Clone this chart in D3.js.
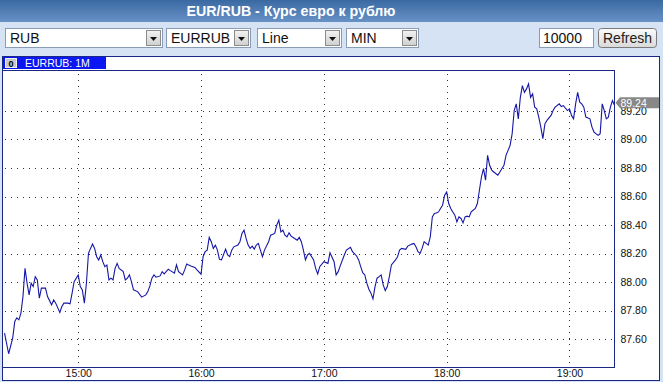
<!DOCTYPE html>
<html lang="ru">
<head>
<meta charset="utf-8">
<title>EUR/RUB</title>
<script src="https://d3js.org/d3.v7.min.js"></script>
<style>
  body { margin: 0; background: #d5e3f5; }
  svg { display: block; font-family: "Liberation Sans", Arial, sans-serif; }
</style>
</head>
<body>
<script>
// minutes after 14:00 and the EUR/RUB rate at that minute
var minutes = [24,26,28,29,30,31,32,33,34,35,36,37,38,39,40,41,42,44,45,47,48,49,51,52,53,55,56,57,58,60,
  61,62,63,64,65,66,67,68,69,70,71,72,73,74,75,76,77,78,79,80,82,83,84,85,86,87,89,91,93,94,95,96,97,98,
  100,101,102,104,105,107,108,109,111,112,113,115,117,118,120,121,122,123,124,125,126,127,128,129,130,
  132,133,134,135,136,138,139,140,141,142,143,144,145,146,147,148,149,150,151,153,154,156,157,158,159,
  160,161,162,163,164,165,167,168,169,170,171,172,173,175,176,177,178,180,182,183,185,186,187,188,190,
  191,193,194,196,197,198,199,200,201,202,203,204,205,206,207,208,209,210,211,212,213,215,216,217,218,
  220,221,223,224,225,226,227,228,229,230,231,232,233,234,235,236,237,238,239,240,241,242,243,244,245,
  246,247,248,249,250,251,252,254,255,256,257,258,259,260,261,262,263,265,266,267,268,269,271,272,273,
  274,275,276,277,278,279,280,281,282,283,284,285,286,287,288,289,291,292,293,295,296,297,299,300,301,
  302,303,304,305,306,307,308,310,311,312,314,315,316,317,318,319,320,321,322];
var rates = [87.642,87.497,87.609,87.723,87.749,87.735,87.782,87.898,88.096,87.992,87.910,87.992,87.968,88.038,88.015,87.887,87.957,87.957,87.898,87.840,87.875,87.852,87.786,87.828,87.852,87.852,87.847,87.922,88.003,88.050,
  87.968,87.945,87.852,87.992,88.201,88.236,88.266,88.236,88.178,88.155,88.190,88.143,88.108,88.119,88.015,88.027,88.015,88.096,88.131,88.096,88.073,88.015,88.027,88.050,88.003,87.945,87.933,87.894,87.910,87.933,87.973,88.027,88.050,88.034,
  88.043,88.073,88.057,88.090,88.080,88.062,88.120,88.073,88.050,88.085,88.127,88.113,88.103,88.085,88.055,88.178,88.213,88.224,88.313,88.283,88.236,88.259,88.224,88.159,88.155,
  88.231,88.190,88.178,88.224,88.247,88.259,88.283,88.341,88.364,88.306,88.259,88.236,88.252,88.231,88.259,88.271,88.224,88.178,88.224,88.283,88.329,88.341,88.399,88.434,88.352,
  88.364,88.329,88.317,88.345,88.322,88.313,88.294,88.313,88.283,88.224,88.155,88.190,88.201,88.155,88.096,88.057,88.108,88.143,88.131,88.206,88.143,88.050,88.073,88.113,88.190,
  88.224,88.243,88.213,88.183,88.155,88.108,88.066,88.050,87.992,87.950,87.922,87.882,87.968,88.027,88.038,88.050,87.980,87.940,87.968,88.038,88.120,88.155,88.178,88.224,88.236,
  88.229,88.252,88.266,88.271,88.247,88.213,88.201,88.236,88.283,88.271,88.259,88.317,88.457,88.481,88.485,88.492,88.516,88.539,88.609,88.632,88.551,88.516,88.492,88.469,88.422,
  88.457,88.446,88.415,88.457,88.462,88.457,88.492,88.516,88.551,88.644,88.737,88.796,88.714,88.889,88.819,88.784,88.772,88.749,88.772,88.796,88.819,88.889,88.959,89.041,89.203,
  89.250,89.145,89.296,89.378,89.331,89.355,89.390,89.296,89.320,89.227,89.215,89.157,89.087,89.006,89.110,89.134,89.169,89.203,89.227,89.250,89.231,89.238,89.203,89.215,89.169,
  89.145,89.250,89.331,89.262,89.250,89.227,89.157,89.145,89.087,89.052,89.029,89.041,89.250,89.203,89.145,89.157,89.227,89.273,89.240];
var rateTicks = [87.6, 87.8, 88.0, 88.2, 88.4, 88.6, 88.8, 89.0, 89.2];
var hourTicks = [15, 16, 17, 18, 19];
var selectLabels = ["RUB", "EURRUB", "Line", "MIN"];
var lastRate = 89.24;

var W = 663, H = 382;
var day = new Date(2010, 0, 1, 14, 0);
var at = m => d3.timeMinute.offset(day, m);

var svg = d3.select("body").append("svg").attr("width", W).attr("height", H);
var defs = svg.append("defs");

function grad(id, c0, c1) {
  var lg = defs.append("linearGradient").attr("id", id)
    .attr("x1", 0).attr("y1", 0).attr("x2", 0).attr("y2", 1);
  lg.append("stop").attr("offset", 0).attr("stop-color", c0);
  lg.append("stop").attr("offset", 1).attr("stop-color", c1);
}
grad("titleGrad", "#3a69a2", "#6892c6");
grad("btnGrad", "#fbfbfb", "#d9d9d9");
grad("arrGrad", "#f2f2f2", "#cfcfcf");

// title bar
svg.append("rect").attr("width", W).attr("height", 22).attr("fill", "url(#titleGrad)");
svg.append("text").attr("x", 291).attr("y", 16).attr("text-anchor", "middle")
  .attr("fill", "#fff").attr("font-weight", "bold").attr("font-size", 14.2)
  .text("EUR/RUB - Курс евро к рублю");

// controls row
var boxes = [{x: 5, w: 157}, {x: 166, w: 84}, {x: 257, w: 84}, {x: 346, w: 72}];
boxes.forEach((b, i) => {
  var g = svg.append("g").attr("transform", `translate(${b.x},28)`);
  g.append("rect").attr("x", 0.5).attr("y", 0.5).attr("width", b.w).attr("height", 19)
    .attr("fill", "#fff").attr("stroke", "#8a9bb5");
  g.append("text").attr("x", 5).attr("y", 15).attr("font-size", 14).attr("fill", "#111")
    .text(selectLabels[i]);
  g.append("rect").attr("x", b.w - 15.5).attr("y", 2.5).attr("width", 14).attr("height", 15)
    .attr("fill", "url(#arrGrad)").attr("stroke", "#8c8c8c");
  g.append("path").attr("d", `M${b.w - 12},9 h7 l-3.5,4 z`).attr("fill", "#111");
});
svg.append("rect").attr("x", 539.5).attr("y", 28.5).attr("width", 54).attr("height", 19)
  .attr("fill", "#fff").attr("stroke", "#8a9bb5");
svg.append("text").attr("x", 543).attr("y", 43).attr("font-size", 14).attr("fill", "#111").text("10000");
svg.append("rect").attr("x", 598.5).attr("y", 28.5).attr("width", 58).attr("height", 19).attr("rx", 3)
  .attr("fill", "url(#btnGrad)").attr("stroke", "#7a7a7a");
svg.append("text").attr("x", 627.5).attr("y", 43).attr("text-anchor", "middle")
  .attr("font-size", 14).attr("fill", "#222").text("Refresh");

// chart panel
var plotL = 2.5, plotR = 614.5, plotT = 70.5, plotB = 367;
svg.append("rect").attr("x", 2.5).attr("y", 56.5).attr("width", 657).attr("height", 324)
  .attr("fill", "#fff").attr("stroke", "#1b2785");

var x = d3.scaleTime().domain([at(23.5), at(322.7)]).range([plotL, plotR]);
var y = d3.scaleLinear().domain([87.404, 89.484]).range([plotB, plotT]);

// grid
var grid = svg.append("g").attr("stroke", "#333").attr("stroke-dasharray", "1,5")
  .attr("shape-rendering", "crispEdges");
grid.selectAll(".hg").data(rateTicks).join("line")
  .attr("x1", 5).attr("x2", plotR)
  .attr("y1", d => Math.round(y(d)) + 0.5).attr("y2", d => Math.round(y(d)) + 0.5);
grid.selectAll(".vg").data(hourTicks).join("line")
  .attr("x1", d => Math.round(x(at((d - 14) * 60))) + 0.5)
  .attr("x2", d => Math.round(x(at((d - 14) * 60))) + 0.5)
  .attr("y1", plotT + 3).attr("y2", plotB);

// axes
var yAxis = d3.axisRight(y).tickValues(rateTicks).tickFormat(d3.format(".2f")).tickSize(0).tickPadding(6);
svg.append("g").attr("transform", `translate(${plotR},0)`).call(yAxis)
  .call(g => g.select(".domain").remove())
  .selectAll("text").attr("font-size", 10.5).attr("fill", "#111").attr("font-family", "Liberation Sans, Arial");

var xAxis = d3.axisBottom(x).tickValues(hourTicks.map(h => at((h - 14) * 60)))
  .tickFormat(d3.timeFormat("%H:%M")).tickSize(0).tickPadding(3);
svg.append("g").attr("transform", `translate(0,${plotB})`).call(xAxis)
  .call(g => g.select(".domain").remove())
  .selectAll("text").attr("font-size", 10.5).attr("fill", "#111").attr("font-family", "Liberation Sans, Arial");

// plot frame
svg.append("rect").attr("x", plotL).attr("y", plotT).attr("width", plotR - plotL).attr("height", plotB - plotT)
  .attr("fill", "none").attr("stroke", "#1b2785").attr("shape-rendering", "crispEdges");

// series label
svg.append("rect").attr("x", 3).attr("y", 57).attr("width", 103).attr("height", 12).attr("fill", "#0b17f2");
svg.append("rect").attr("x", 5.5).attr("y", 58.5).attr("width", 11).attr("height", 9)
  .attr("fill", "#c8c8c8").attr("stroke", "#eee");
svg.append("text").attr("x", 11).attr("y", 66.5).attr("text-anchor", "middle").attr("font-size", 9)
  .attr("font-weight", "bold").attr("fill", "#000").text("0");
svg.append("text").attr("x", 25).attr("y", 67).attr("font-size", 10.5).attr("fill", "#fff").text("EURRUB: 1M");

// rate line
var pts = minutes.map((m, i) => ({t: at(m), v: rates[i]}));
svg.append("path").datum(pts)
  .attr("fill", "none").attr("stroke", "#1616a6").attr("stroke-width", 1.1)
  .attr("d", d3.line().x(d => x(d.t)).y(d => y(d.v)));

// last value tag
var ty = y(lastRate) - 2.5;
svg.append("path").attr("d", `M615.5,${ty} L620,${ty - 5.5} H659 V${ty + 5.5} H620 Z`).attr("fill", "#888");
svg.append("text").attr("x", 620.5).attr("y", ty + 4).attr("font-size", 10.5).attr("fill", "#fff")
  .text(lastRate.toFixed(2));
</script>
</body>
</html>
